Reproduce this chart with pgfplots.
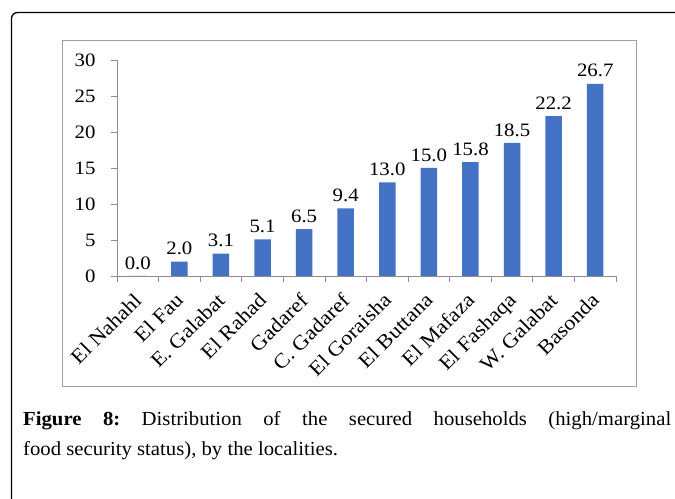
\documentclass[border=0pt]{standalone}
\usepackage{fontspec}
\setmainfont{Liberation Serif}
\newfontfamily\chartfont[FakeStretch=1.1]{Liberation Serif}
\newfontfamily\capfont[FakeStretch=1.04]{Liberation Serif}
\usepackage{pgfplots}
\pgfplotsset{compat=1.18}
\definecolor{barblue}{HTML}{4472C4}
\definecolor{axisgray}{HTML}{8C8C8C}
\definecolor{framegray}{HTML}{A0A0A0}
\begin{document}
\frenchspacing
\begin{tikzpicture}[x=1bp,y=1bp]
\clip (0,0) rectangle (675,499);
\fill[white] (0,0) rectangle (675,499);
\draw[black, line width=1.3bp, rounded corners=6bp] (11.5,-20) -- (11.5,486.5) -- (720,486.5);
\draw[framegray, line width=1bp] (62,112) rectangle (636,458);
\begin{axis}[
  at={(117bp,223bp)}, anchor=south west,
  scale only axis, width=499bp, height=216bp,
  xmin=0, xmax=12, ymin=0, ymax=30,
  axis lines*=left,
  axis line style={axisgray, line width=0.8bp},
  ytick={0,5,...,30},
  xtick={0.5,1.5,...,11.5},
  xticklabels={El Nahahl, El Fau, E. Galabat, El Rahad, Gadaref, C. Gadaref, El Goraisha, El Buttana, El Mafaza, El Fashaqa, W. Galabat, Basonda},
  minor xtick={0,1,...,12},
  tick align=outside,
  major tick length=6bp, minor tick length=6bp,
  major x tick style={draw=none},
  minor x tick style={axisgray, line width=0.8bp},
  y tick style={axisgray, line width=0.8bp},
  ticklabel style={font=\chartfont\fontsize{19}{19}\selectfont},
  yticklabel style={xshift=-12bp},
  xticklabel style={xshift=-5bp, yshift=-8bp, rotate=45, anchor=north east, inner sep=1bp, font=\chartfont\fontsize{20.5}{20.5}\selectfont},
  /pgf/number format/assume math mode=true,
  clip=false,
]
\addplot[ybar, bar width=16.5bp, fill=barblue, draw=none,
  nodes near coords={\pgfmathprintnumber[fixed,fixed zerofill,precision=1,assume math mode=true]{\pgfplotspointmeta}},
  nodes near coords style={font=\chartfont\fontsize{19}{19}\selectfont, text=black, anchor=south, yshift=3bp}]
coordinates {(0.5,0.0) (1.5,2.0) (2.5,3.1) (3.5,5.1) (4.5,6.5) (5.5,9.4) (6.5,13.0) (7.5,15.0) (8.5,15.8) (9.5,18.5) (10.5,22.2) (11.5,26.7)};
\end{axis}
\node[anchor=base west, inner sep=0pt, font=\capfont\fontsize{20}{24}\selectfont] at (23,73)
  {\makebox[648bp][s]{\textbf{Figure 8:} Distribution of the secured households (high/marginal}};
\node[anchor=base west, inner sep=0pt, font=\capfont\fontsize{20}{24}\selectfont] at (23,43)
  {food security status), by the localities.};
\end{tikzpicture}
\end{document}
